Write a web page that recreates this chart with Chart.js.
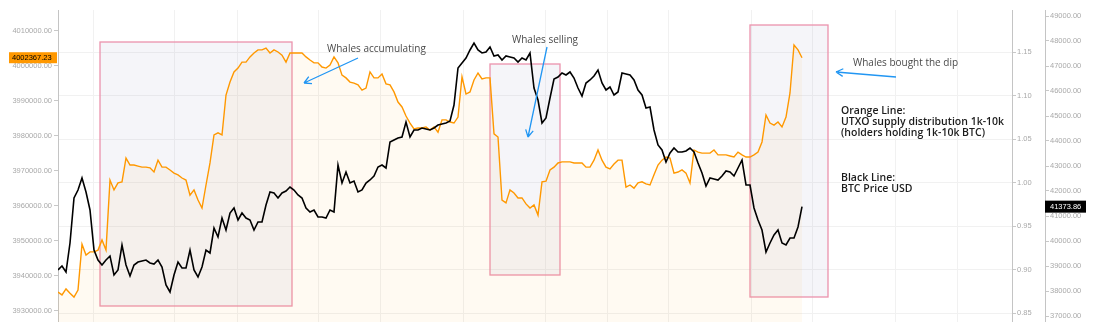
<!DOCTYPE html>
<html>
<head>
<meta charset="utf-8">
<script src="https://cdn.jsdelivr.net/npm/chart.js@4.4.1/dist/chart.umd.min.js"></script>
<style>
  html, body { margin: 0; padding: 0; background: #fff; }
  canvas { display: block; }
</style>
</head>
<body>
<canvas id="chart" width="1094" height="322"></canvas>
<script>
// UTXO supply held by 1k-10k BTC wallets (orange, left axis)
const orangeSupply = [
  3935400, 3934600, 3936300, 3935100, 3934000, 3936000, 3949100, 3946000, 3946900, 3946900,
  3947400, 3950300, 3947400, 3967400, 3964600, 3966600, 3966900, 3973700, 3971700, 3971700,
  3971400, 3971100, 3971100, 3970900, 3969700, 3973100, 3971100, 3971100, 3970300, 3969400,
  3968900, 3968000, 3967400, 3963100, 3964600, 3961700, 3959400, 3966000, 3972300, 3980300,
  3980900, 3980300, 3991700, 3995400, 3998300, 3999400, 4001100, 4001100, 4002600, 4003700,
  4004600, 4004600, 4005100, 4003700, 4004600, 4004000, 4003100, 4001100, 4003700, 4003700,
  4003700, 4003700, 4002600, 4001700, 4000900, 4000900, 3999700, 3999400, 4000300, 4002600,
  4000900, 3997400, 3996600, 3995400, 3995100, 3994600, 3993100, 3993700, 3998300, 3996600,
  3996600, 3997700, 3994900, 3994600, 3992600, 3989700, 3988300, 3985700, 3983700, 3982000,
  3982300, 3982300, 3982600, 3981700, 3982600, 3981100, 3984600, 3984600, 3984000, 3983700,
  3985400, 3996900, 3992000, 3992600, 3996000, 3998000, 3996300, 3996600, 3996600, 3980600,
  3979700, 3961700, 3960900, 3964600, 3963700, 3962300, 3962300, 3960600, 3959400, 3960300,
  3957400, 3966900, 3967100, 3970300, 3971100, 3972300, 3972600, 3972600, 3972600, 3972300,
  3972300, 3972300, 3971100, 3971100, 3973100, 3976000, 3973100, 3971100, 3970600, 3972000,
  3973100, 3973100, 3965400, 3966000, 3965100, 3966600, 3966900, 3966300, 3966000, 3968900,
  3971700, 3973100, 3974000, 3973700, 3969400, 3969700, 3970300, 3969400, 3966600, 3976000,
  3975400, 3975100, 3975100, 3975100, 3976000, 3974600, 3974600, 3974600, 3974300, 3974000,
  3975400, 3974600, 3974000, 3974000, 3974600, 3975400, 3978300, 3986000, 3983700, 3983100,
  3984000, 3982600, 3985400, 3992300, 4006000, 4004600, 4002367.23
];

// BTC price in USD (black, right axis)
const btcPrice = [
  38840, 39000, 38760, 39920, 41720, 42040, 42520, 41960, 41240, 39640,
  39240, 39040, 39240, 39400, 38640, 38840, 39840, 39040, 38600, 39040,
  39160, 39200, 39240, 39120, 39080, 39240, 38960, 38240, 37960, 38640,
  39160, 38920, 38920, 39640, 38840, 38560, 38960, 39640, 39520, 40520,
  40160, 40920, 40440, 41120, 41320, 40840, 41120, 40920, 40840, 40440,
  40760, 40760, 41440, 41960, 41920, 41720, 41920, 42000, 42160, 42040,
  41840, 41720, 41320, 41160, 41240, 40960, 40960, 40920, 41240, 41160,
  43040, 42320, 42760, 42320, 42400, 41960, 42040, 42320, 42440, 42600,
  42960, 43040, 42920, 43960, 44040, 44120, 44160, 44760, 44160, 44440,
  44440, 44520, 44480, 44440, 44520, 44640, 44680, 44720, 44800, 45440,
  46920, 47120, 47320, 47640, 47920, 47640, 47520, 47560, 47760, 47400,
  47440, 47240, 47400, 47360, 47320, 47160, 47320, 47240, 47520, 46120,
  45640, 44720, 44920, 45720, 46480, 46560, 46720, 46640, 46760, 46520,
  46120, 45800, 46320, 46440, 46600, 46840, 46320, 46040, 46160, 45840,
  45960, 46720, 46680, 46640, 46440, 46040, 45840, 45320, 45360, 44440,
  43840, 43640, 43160, 43520, 43720, 43560, 43560, 43600, 43720, 43560,
  43120, 42720, 42200, 42520, 42480, 42440, 42600, 42800, 42760, 42600,
  42920, 43240, 42240, 42240, 41320, 40840, 40440, 39560, 39920, 40240,
  40440, 39920, 39840, 40120, 40120, 40560, 41373.86
];

// axis ticks
const supplyTicks = [3930000, 3940000, 3950000, 3960000, 3970000, 3980000, 3990000, 4000000, 4010000];
const ratioTicks = [0.85, 0.90, 0.95, 1.00, 1.05, 1.10, 1.15];
const priceTicks = [37000, 38000, 39000, 40000, 41000, 42000, 43000, 44000, 45000, 46000, 47000, 48000, 49000];

// date grid lines on the time axis (bar index)
const timeGrid = [8.75, 29, 44.75, 65, 80.5, 101.25, 121.75, 137.25, 152.5, 173.25, 188.5, 209.25, 224.75];

// drawings, anchored in bar index / BTC price
const zones = [
  { from: 10.5, to: 58.5, low: 37400, high: 47960 },
  { from: 108, to: 125.5, low: 38640, high: 47080 },
  { from: 173, to: 192.5, low: 37760, high: 48640 }
];
const notes = [
  { text: 'Whales accumulating', t: 67.25, p: 47680 },
  { text: 'Whales selling', t: 113.5, p: 48040 },
  { text: 'Whales bought the dip', t: 198.75, p: 47120 }
];
const arrows = [
  { t0: 75, p0: 47320, t1: 61.5, p1: 46320 },
  { t0: 122.25, p0: 47760, t1: 117.5, p1: 44160 },
  { t0: 209.5, p0: 46560, t1: 194.5, p1: 46760 }
];
const legendNote = [
  { text: 'Orange Line:', p: 45200 },
  { text: 'UTXO supply distribution 1k-10k', p: 44760 },
  { text: '(holders holding 1k-10k BTC)', p: 44320 },
  { text: 'Black Line:', p: 42520 },
  { text: 'BTC Price USD', p: 42080 }
];
const legendNoteT = 195.75;

const axisFont = { family: '"Liberation Sans", Arial, sans-serif', size: 7.5 };
const axisColor = '#a9a9a9';

const drawings = {
  id: 'drawings',
  beforeDatasetsDraw(chart) {
    const { ctx, scales } = chart;
    const x = scales.x, y = scales.yPrice;
    ctx.save();
    zones.forEach(z => {
      const x0 = x.getPixelForValue(z.from), x1 = x.getPixelForValue(z.to);
      const y0 = y.getPixelForValue(z.high), y1 = y.getPixelForValue(z.low);
      ctx.fillStyle = 'rgba(110, 115, 170, 0.07)';
      ctx.fillRect(x0, y0, x1 - x0, y1 - y0);
      ctx.strokeStyle = '#ec93ad';
      ctx.lineWidth = 1.3;
      ctx.strokeRect(x0, y0, x1 - x0, y1 - y0);
    });
    ctx.restore();
  },
  afterDatasetsDraw(chart) {
    const { ctx, scales } = chart;
    const x = scales.x, y = scales.yPrice;
    ctx.save();
    // arrows
    ctx.strokeStyle = '#2196f3';
    ctx.lineWidth = 1.3;
    arrows.forEach(a => {
      const ax = x.getPixelForValue(a.t0), ay = y.getPixelForValue(a.p0);
      const bx = x.getPixelForValue(a.t1), by = y.getPixelForValue(a.p1);
      const ang = Math.atan2(by - ay, bx - ax);
      ctx.beginPath();
      ctx.moveTo(ax, ay);
      ctx.lineTo(bx, by);
      [-0.5, 0.5].forEach(d => {
        ctx.moveTo(bx, by);
        ctx.lineTo(bx - 8 * Math.cos(ang + d), by - 8 * Math.sin(ang + d));
      });
      ctx.stroke();
    });
    // text notes
    ctx.textBaseline = 'middle';
    ctx.textAlign = 'left';
    ctx.fillStyle = '#4a4a4a';
    ctx.font = '10px "Open Sans", sans-serif';
    notes.forEach(n => ctx.fillText(n.text, x.getPixelForValue(n.t), y.getPixelForValue(n.p)));
    ctx.fillStyle = '#1c1c1c';
    ctx.font = '600 10.5px "Open Sans", sans-serif';
    legendNote.forEach(n => ctx.fillText(n.text, x.getPixelForValue(legendNoteT), y.getPixelForValue(n.p)));
    ctx.restore();
  },
  afterDraw(chart) {
    const { ctx, scales } = chart;
    ctx.save();
    ctx.textBaseline = 'middle';
    ctx.font = '7.5px "Liberation Sans", Arial, sans-serif';
    // last value tag, supply
    const ls = scales.ySupply;
    const lastSupply = orangeSupply[orangeSupply.length - 1];
    const sy = ls.getPixelForValue(lastSupply);
    ctx.fillStyle = '#ff9800';
    ctx.fillRect(ls.right - 49, sy - 5.5, 48, 11);
    ctx.fillStyle = '#000';
    ctx.textAlign = 'left';
    ctx.fillText(lastSupply.toFixed(2), ls.right - 46, sy);
    // last value tag, price
    const rp = scales.yPrice;
    const lastPrice = btcPrice[btcPrice.length - 1];
    const py = rp.getPixelForValue(lastPrice);
    ctx.fillStyle = '#000';
    ctx.fillRect(rp.left, py - 6, 41, 12);
    ctx.fillStyle = '#fff';
    ctx.fillText(lastPrice.toFixed(2), rp.left + 5, py);
    ctx.restore();
  }
};

const toPoints = arr => arr.map((v, i) => ({ x: i, y: v }));
const useTicks = list => s => { s.ticks = list.map(v => ({ value: v })); };
// fixed axis width, and no extra room reserved for the end labels
const fixWidth = w => s => { s.width = w; s.paddingTop = 0; s.paddingBottom = 0; };

new Chart(document.getElementById('chart'), {
  type: 'line',
  data: {
    datasets: [
      {
        label: 'BTC Price USD',
        data: toPoints(btcPrice),
        yAxisID: 'yPrice',
        borderColor: '#000',
        borderWidth: 1.6,
        pointRadius: 0,
        tension: 0,
        order: 0
      },
      {
        label: 'UTXO supply distribution 1k-10k',
        data: toPoints(orangeSupply),
        yAxisID: 'ySupply',
        borderColor: '#ff9800',
        borderWidth: 1.4,
        backgroundColor: 'rgba(255, 152, 0, 0.05)',
        fill: 'start',
        pointRadius: 0,
        tension: 0,
        order: 1
      }
    ]
  },
  options: {
    responsive: false,
    animation: false,
    layout: { padding: { top: 10, left: 0, right: 0, bottom: 0 } },
    plugins: { legend: { display: false }, tooltip: { enabled: false } },
    scales: {
      x: {
        type: 'linear',
        min: 0,
        max: 238.5,
        ticks: { display: false, padding: 0 },
        grid: { color: '#f1f1f1', drawTicks: false },
        border: { display: false },
        afterBuildTicks: useTicks(timeGrid),
        afterFit: s => { s.height = 0; s.paddingLeft = 0; s.paddingRight = 0; }
      },
      ySupply: {
        position: 'left',
        min: 3926857,
        max: 4016000,
        ticks: { padding: 2, color: axisColor, font: axisFont, callback: v => v.toFixed(2) },
        grid: { drawOnChartArea: false, tickLength: 4, tickColor: '#c8c8c8' },
        border: { color: '#c4c4c4' },
        afterBuildTicks: useTicks(supplyTicks),
        afterFit: fixWidth(58)
      },
      yRatio: {
        position: 'right',
        weight: 0,
        min: 0.83966,
        max: 1.19828,
        ticks: { padding: 1, color: axisColor, font: axisFont, callback: v => v.toFixed(2) },
        grid: { color: '#f1f1f1', tickLength: 4, tickColor: '#c8c8c8' },
        border: { color: '#c4c4c4' },
        afterBuildTicks: useTicks(ratioTicks),
        afterFit: fixWidth(33)
      },
      yPrice: {
        position: 'right',
        weight: 1,
        min: 36760,
        max: 49240,
        ticks: { padding: 1, color: axisColor, font: axisFont, callback: v => v.toFixed(2) },
        grid: { drawOnChartArea: false, tickLength: 4, tickColor: '#c8c8c8' },
        border: { color: '#c4c4c4' },
        afterBuildTicks: useTicks(priceTicks),
        afterFit: fixWidth(49)
      }
    }
  },
  plugins: [drawings]
});
</script>
</body>
</html>
